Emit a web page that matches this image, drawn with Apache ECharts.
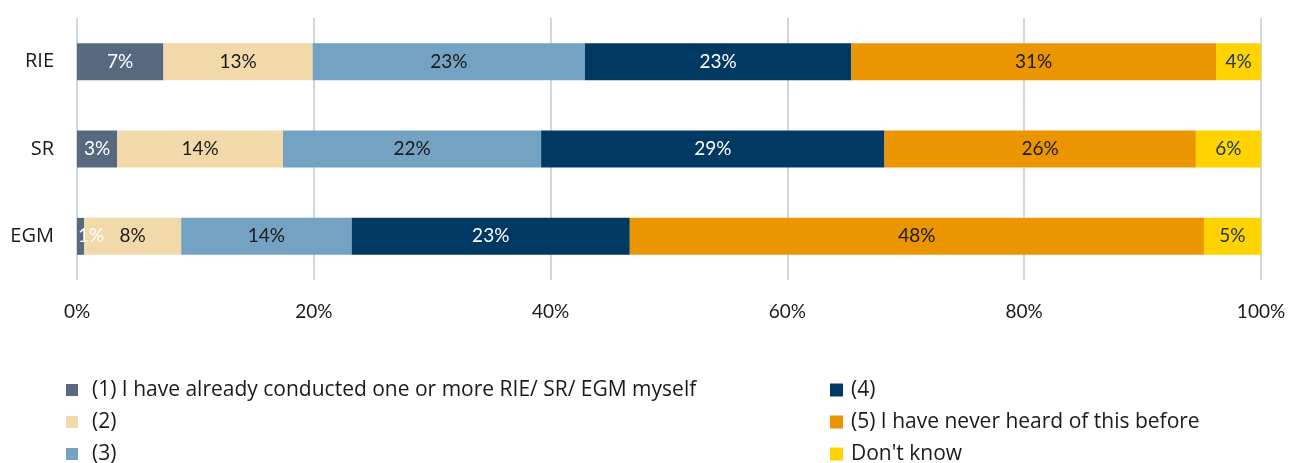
<!DOCTYPE html>
<html>
<head>
<meta charset="utf-8">
<script src="https://cdn.jsdelivr.net/npm/echarts@6/dist/echarts.min.js"></script>
<style>
html,body{margin:0;padding:0;background:#fff;}
#chart{width:1290px;height:463px;}
</style>
</head>
<body>
<div id="chart"></div>
<script>
var categories = ["RIE", "SR", "EGM"];
var seriesNames = ["(1) I have already conducted one or more RIE/ SR/ EGM myself", "(2)", "(3)", "(4)", "(5) I have never heard of this before", "Don't know"];
// percentage per answer, in category order RIE, SR, EGM
var answer1 = [7.3, 3.4, 0.6];
var answer2 = [12.6, 14.0, 8.2];
var answer3 = [23.0, 21.8, 14.4];
var answer4 = [22.5, 29.0, 23.49];
var answer5 = [30.8, 26.3, 48.49];
var dontKnow = [3.8, 5.5, 4.82];
var xTicks = [0, 20, 40, 60, 80, 100];

var colors = ["#56697e", "#f2d9a9", "#74a2c2", "#003a63", "#eb9500", "#ffd300"];
var labelColors = ["#ffffff", "#1a1a1a", "#1a1a1a", "#ffffff", "#1a1a1a", "#1f3864"];
var allData = [answer1, answer2, answer3, answer4, answer5, dontKnow];
var font = "Lato, sans-serif";
var legendFont = "'Open Sans', sans-serif";

var series = [];
for (var i = 0; i < allData.length; i++) {
	var items = [];
	for (var j = 0; j < allData[i].length; j++) {
		var v = allData[i][j];
		// tiny segments: label starts at the bar's left edge and spills over
		if (v < 2) {
			items.push({value: v, label: {position: "insideLeft", distance: 1}});
		} else {
			items.push(v);
		}
	}
	series.push({
		name: seriesNames[i],
		type: "bar",
		stack: "total",
		barWidth: 37,
		data: items,
		itemStyle: {color: colors[i]},
		label: {
			show: true,
			position: "inside",
			color: labelColors[i],
			fontSize: 19,
			fontFamily: font,
			formatter: function(p){ return Math.round(p.value) + "%"; }
		}
	});
}

var myChart = echarts.init(document.getElementById("chart"));
var legendText = {fontSize: 21, fontFamily: legendFont, color: "#1a1a1a", lineHeight: 22};
var option = {
	animation: false,
	grid: {left: 77, right: 29, top: 18, bottom: 183, containLabel: false},
	legend: [
		{
			data: seriesNames.slice(0, 3),
			orient: "vertical",
			left: 61,
			top: 374,
			height: 120,
			itemWidth: 12,
			itemHeight: 12,
			itemGap: 10,
			icon: "rect",
			textStyle: Object.assign({padding: [0, 0, 0, 9]}, legendText)
		},
		{
			data: seriesNames.slice(3),
			orient: "vertical",
			left: 825,
			top: 374,
			height: 120,
			itemWidth: 13,
			itemHeight: 13,
			itemGap: 10,
			icon: "rect",
			textStyle: Object.assign({padding: [0, 0, 0, 3]}, legendText)
		}
	],
	xAxis: {
		type: "value",
		min: xTicks[0],
		max: xTicks[xTicks.length - 1],
		interval: 20,
		axisLine: {show: false},
		axisTick: {show: false},
		splitLine: {lineStyle: {color: "#d0d7df", width: 2}},
		axisLabel: {
			margin: 22,
			fontSize: 19,
			fontFamily: font,
			color: "#1a1a1a",
			formatter: "{value}%"
		}
	},
	yAxis: {
		type: "category",
		inverse: true,
		data: categories,
		axisLine: {show: false},
		axisTick: {show: false},
		axisLabel: {margin: 23, fontSize: 20, fontFamily: legendFont, color: "#1a1a1a"}
	},
	series: series
};
myChart.setOption(option);
</script>
</body>
</html>
